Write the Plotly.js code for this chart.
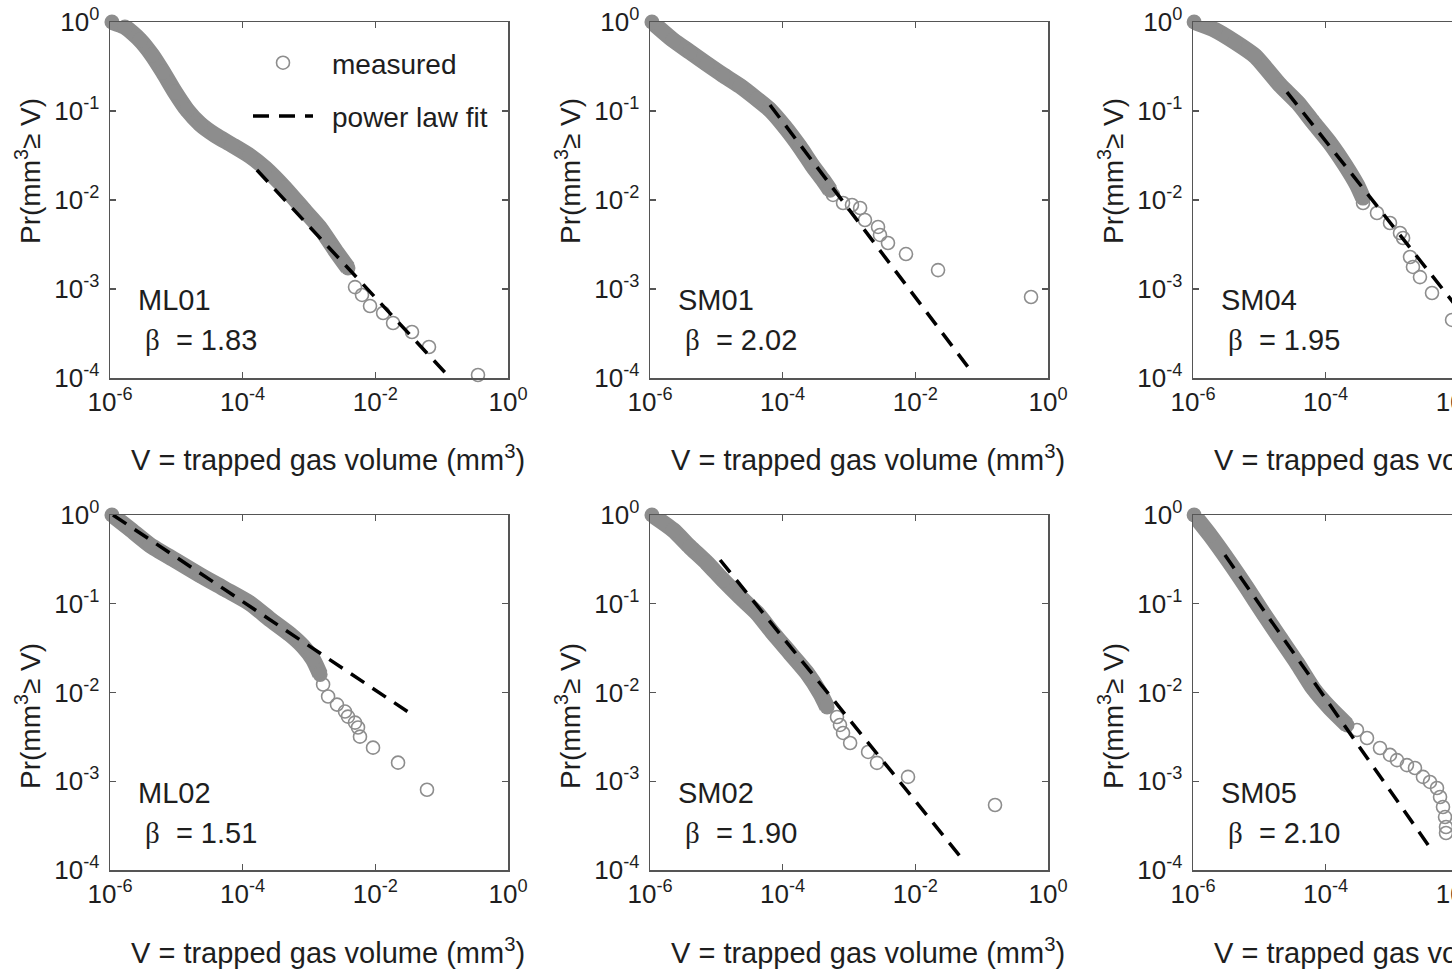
<!DOCTYPE html>
<html><head><meta charset="utf-8">
<script src="https://cdn.plot.ly/plotly-3.0.1.min.js"></script>
<style>html,body{margin:0;padding:0;overflow:hidden;background:#fff;} #chart{width:1640px;height:974px;}</style>
</head><body><div id="chart"></div>
<script>
// ---------- data ----------
const xTickVals = [1e-6, 1e-4, 1e-2, 1];
const xTickText = ['10<sup>-6</sup>', '10<sup>-4</sup>', '10<sup>-2</sup>', '10<sup>0</sup>'];
const yTickVals = [1e-4, 1e-3, 1e-2, 1e-1, 1];
const yTickText = ['10<sup>-4</sup>', '10<sup>-3</sup>', '10<sup>-2</sup>', '10<sup>-1</sup>', '10<sup>0</sup>'];

const sampleNames = ['ML01', 'SM01', 'SM04', 'ML02', 'SM02', 'SM05'];
const betaValues = ['1.83', '2.02', '1.95', '1.51', '1.90', '2.10'];
const legendNames = ['measured', 'power law fit'];

// ML01
const ML01_bandV = [1.07e-6, 1.68e-6, 2.83e-6, 4.30e-6, 6.30e-6, 9.55e-6, 1.45e-5, 2.28e-5, 3.83e-5, 6.90e-5, 1.29e-4, 2.17e-4, 4.35e-4, 8.71e-4, 1.47e-3, 2.47e-3, 3.87e-3];
const ML01_bandP = [1.0, 0.879, 0.628, 0.426, 0.274, 0.163, 0.103, 0.0715, 0.0537, 0.0415, 0.0312, 0.0229, 0.0136, 0.00752, 0.00484, 0.00274, 0.00172];
const ML01_tailV = [4.94e-3, 6.30e-3, 8.32e-3, 1.31e-2, 1.85e-2, 3.57e-2, 6.44e-2, 0.353];
const ML01_tailP = [1.05e-3, 8.57e-4, 6.44e-4, 5.37e-4, 4.15e-4, 3.29e-4, 2.23e-4, 1.08e-4];
const ML01_fitV = [1.64e-4, 0.134];
const ML01_fitP = [0.0217, 1e-4];

// SM01
const SM01_bandV = [1.07e-6, 2.22e-6, 4.01e-6, 7.23e-6, 1.26e-5, 2.28e-5, 4.10e-5, 6.44e-5, 1.08e-4, 1.82e-4, 2.77e-4, 4.06e-4, 5.18e-4];
const SM01_bandP = [1.0, 0.628, 0.460, 0.337, 0.254, 0.191, 0.136, 0.103, 0.0661, 0.0394, 0.0247, 0.0168, 0.0129];
const SM01_tailV = [5.74e-4, 8.13e-4, 1.11e-3, 1.47e-3, 1.74e-3, 2.74e-3, 2.93e-3, 3.87e-3, 7.23e-3, 2.20e-2, 0.555];
const SM01_tailP = [0.0114, 0.00925, 0.00879, 0.00813, 0.00596, 0.00498, 0.00405, 0.00329, 0.00247, 0.00163, 8.13e-4];
const SM01_fitV = [6.44e-5, 6.22e-2];
const SM01_fitP = [0.117, 1.33e-4];

// SM04
const SM04_bandV = [1.04e-6, 2.15e-6, 4.30e-6, 8.61e-6, 2.05e-5, 3.83e-5, 6.44e-5, 1.16e-4, 1.96e-4, 2.96e-4, 3.66e-4];
const SM04_bandP = [1.0, 0.813, 0.596, 0.415, 0.196, 0.123, 0.0752, 0.0437, 0.0247, 0.0148, 0.0105];
const SM04_tailV = [3.66e-4, 5.94e-4, 9.33e-4, 1.32e-3, 1.47e-3, 1.87e-3, 2.07e-3, 2.64e-3, 4.01e-3, 8.04e-3];
const SM04_tailP = [0.00925, 0.00714, 0.00552, 0.00426, 0.00374, 0.00229, 0.00177, 0.00136, 9.02e-4, 4.49e-4];
const SM04_fitV = [2.61e-5, 6.67e-2];
const SM04_fitP = [0.163, 1e-4];

// ML02
const ML02_bandV = [1.07e-6, 2.00e-6, 4.01e-6, 9.55e-6, 2.28e-5, 5.42e-5, 1.29e-4, 2.58e-4, 5.18e-4, 8.13e-4, 1.15e-3, 1.47e-3];
const ML02_bandP = [1.0, 0.695, 0.458, 0.310, 0.210, 0.146, 0.101, 0.0668, 0.0452, 0.0331, 0.0236, 0.0160];
const ML02_tailV = [1.63e-3, 1.94e-3, 2.64e-3, 3.49e-3, 3.87e-3, 4.94e-3, 5.48e-3, 5.87e-3, 9.23e-3, 2.20e-2, 6.01e-2];
const ML02_tailP = [0.0123, 0.00901, 0.00731, 0.00610, 0.00535, 0.00458, 0.00403, 0.00318, 0.00239, 0.00162, 8.02e-4];
const ML02_fitV = [1.11e-6, 3.96e-2];
const ML02_fitP = [1.0, 5.36e-3];

// SM02
const SM02_bandV = [1.07e-6, 2.22e-6, 4.01e-6, 7.23e-6, 1.26e-5, 2.28e-5, 4.10e-5, 7.14e-5, 1.29e-4, 2.33e-4, 3.66e-4, 4.67e-4];
const SM02_bandP = [1.0, 0.678, 0.436, 0.288, 0.185, 0.119, 0.0787, 0.0468, 0.0279, 0.0166, 0.00986, 0.00687];
const SM02_tailV = [6.59e-4, 7.31e-4, 8.13e-4, 1.04e-3, 1.94e-3, 2.64e-3, 7.76e-3, 0.159];
const SM02_tailP = [0.00530, 0.00431, 0.00350, 0.00270, 0.00214, 0.00161, 0.00112, 5.40e-4];
const SM02_fitV = [1.14e-5, 5.24e-2];
const SM02_fitP = [0.311, 1.30e-4];

// SM05
const SM05_bandV = [1.04e-6, 1.80e-6, 3.61e-6, 6.52e-6, 1.14e-5, 2.05e-5, 3.70e-5, 6.44e-5, 1.16e-4, 2.10e-4];
const SM05_bandP = [1.0, 0.595, 0.288, 0.150, 0.0787, 0.0411, 0.0215, 0.0112, 0.00668, 0.00431];
const SM05_tailV = [2.96e-4, 4.20e-4, 6.59e-4, 9.33e-4, 1.19e-3, 1.68e-3, 2.22e-3, 2.93e-3, 3.74e-3, 4.77e-3, 5.30e-3, 5.87e-3, 6.30e-3, 6.52e-3, 6.52e-3];
const SM05_tailP = [0.00378, 0.00307, 0.00237, 0.00198, 0.00173, 0.00152, 0.00141, 0.00112, 9.82e-4, 8.39e-4, 6.65e-4, 5.13e-4, 3.95e-4, 3.05e-4, 2.61e-4];
const SM05_fitV = [3.03e-6, 4.15e-3];
const SM05_fitP = [0.354, 1.60e-4];

// ---------- build ----------
const series = [
  [ML01_bandV, ML01_bandP, ML01_tailV, ML01_tailP, ML01_fitV, ML01_fitP],
  [SM01_bandV, SM01_bandP, SM01_tailV, SM01_tailP, SM01_fitV, SM01_fitP],
  [SM04_bandV, SM04_bandP, SM04_tailV, SM04_tailP, SM04_fitV, SM04_fitP],
  [ML02_bandV, ML02_bandP, ML02_tailV, ML02_tailP, ML02_fitV, ML02_fitP],
  [SM02_bandV, SM02_bandP, SM02_tailV, SM02_tailP, SM02_fitV, SM02_fitP],
  [SM05_bandV, SM05_bandP, SM05_tailV, SM05_tailP, SM05_fitV, SM05_fitP]
];

const W = 1640, H = 974;
const FONT = 'Liberation Sans, Arial, Helvetica, sans-serif';
const TXT = '#1e1e1e';
const GRAY = '#8d8d8d';
const AXC = '#555555';
const colLeft = [110, 650, 1193], plotW = 398;
const rowTop = [22, 515], rowBot = [378, 870];

const traces = [];
const layout = {
  width: W, height: H, autosize: false,
  margin: {l: 0, r: 0, t: 0, b: 0, pad: 0},
  paper_bgcolor: '#fff', plot_bgcolor: '#fff',
  font: {family: FONT, color: TXT},
  showlegend: true,
  legend: {
    x: 248 / W, y: 1 - 38 / H, xanchor: 'left', yanchor: 'top',
    bgcolor: 'rgba(0,0,0,0)', borderwidth: 0,
    font: {family: FONT, size: 28, color: TXT},
    traceorder: 'grouped', tracegroupgap: 14, itemwidth: 60
  },
  annotations: []
};

const px2x = p => p / W;
const py2y = p => 1 - p / H;

for (let i = 0; i < 6; i++) {
  const row = i < 3 ? 0 : 1, col = i % 3;
  const sfx = i === 0 ? '' : String(i + 1);
  const xa = 'x' + sfx, ya = 'y' + sfx;
  const [bV, bP, tV, tP, fV, fP] = series[i];

  traces.push({
    x: bV, y: bP, xaxis: xa, yaxis: ya, type: 'scatter', mode: 'lines+markers',
    line: {color: GRAY, width: 16, shape: 'spline', smoothing: 0.6},
    marker: {symbol: 'circle', size: 15, color: GRAY, line: {width: 0}},
    showlegend: false, cliponaxis: false, hoverinfo: 'skip'
  });
  traces.push({
    x: tV, y: tP, xaxis: xa, yaxis: ya, type: 'scatter', mode: 'markers',
    name: '\u2002' + legendNames[0], legendgroup: 'm', showlegend: i === 0,
    marker: {symbol: 'circle-open', size: 13, color: GRAY, line: {width: 1.6, color: GRAY}},
    cliponaxis: false
  });
  traces.push({
    x: fV, y: fP, xaxis: xa, yaxis: ya, type: 'scatter', mode: 'lines',
    name: '\u2002' + legendNames[1], legendgroup: 'f', showlegend: i === 0,
    line: {color: '#000', width: 3.5, dash: '16px,10px'},
    cliponaxis: false
  });

  const common = {
    type: 'log', showgrid: false, zeroline: false,
    showline: true, linecolor: AXC, linewidth: 1.5, mirror: 'ticks',
    ticks: 'inside', ticklen: 6, tickwidth: 1.2, tickcolor: AXC,
    tickfont: {family: FONT, size: 26, color: TXT}, fixedrange: true
  };
  layout['xaxis' + sfx] = Object.assign({}, common, {
    range: [-6, 0], tickvals: xTickVals, ticktext: xTickText,
    domain: [px2x(colLeft[col]), px2x(colLeft[col] + plotW)], anchor: ya
  });
  layout['yaxis' + sfx] = Object.assign({}, common, {
    range: [-4, 0], tickvals: yTickVals, ticktext: yTickText,
    domain: [py2y(rowBot[row]), py2y(rowTop[row])], anchor: xa, ticklabelstandoff: 4
  });

  const L = colLeft[col];
  const topOff = rowTop[row];
  // x-axis title
  layout.annotations.push({
    xref: 'paper', yref: 'paper', x: px2x(L + 218), y: py2y(topOff + 436),
    xanchor: 'center', yanchor: 'middle', showarrow: false,
    text: 'V = trapped gas volume (mm<sup>3</sup>)',
    font: {family: FONT, size: 29, color: TXT}
  });
  // y-axis title
  layout.annotations.push({
    xref: 'paper', yref: 'paper', x: px2x(L - 82), y: py2y(row === 0 ? 171 : 716),
    xanchor: 'center', yanchor: 'middle', showarrow: false, textangle: -90,
    text: 'Pr(mm<sup>3</sup>≥ V)',
    font: {family: FONT, size: 28, color: TXT}
  });
  // sample name
  layout.annotations.push({
    xref: 'paper', yref: 'paper', x: px2x(L + 26), y: py2y(topOff + 278),
    xanchor: 'left', yanchor: 'middle', showarrow: false,
    text: sampleNames[i], font: {family: FONT, size: 29, color: TXT}
  });
  // beta
  layout.annotations.push({
    xref: 'paper', yref: 'paper', x: px2x(L + 33), y: py2y(topOff + 318),
    xanchor: 'left', yanchor: 'middle', showarrow: false,
    text: '<span style="font-family:Liberation Serif, Times New Roman, serif">β</span>  = ' + betaValues[i],
    font: {family: FONT, size: 29, color: TXT}
  });
}

Plotly.newPlot('chart', traces, layout, {staticPlot: true, displayModeBar: false});
</script></body></html>
